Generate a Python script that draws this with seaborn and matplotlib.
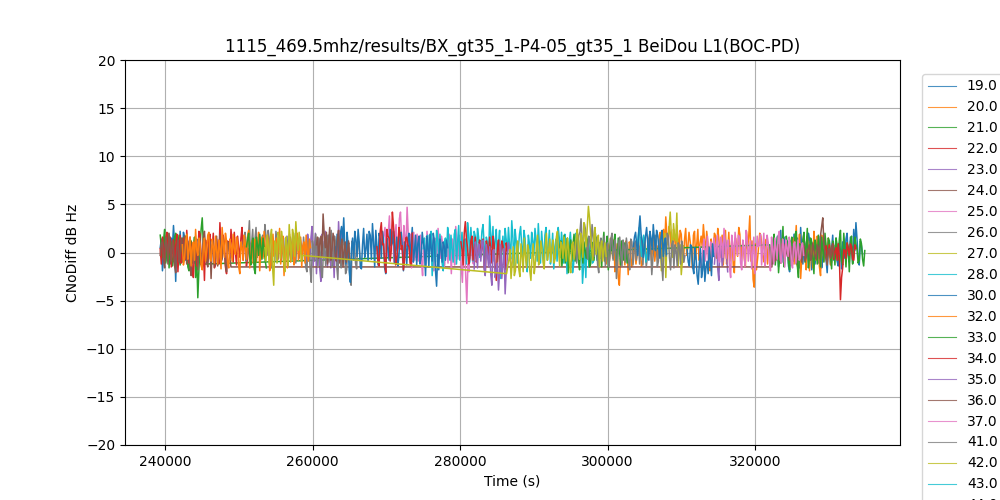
import pandas as pd
import matplotlib
matplotlib.use("Agg")
import matplotlib.pyplot as plt
import seaborn as sns

STEP = 300  # seconds between the "even" samples, the "odd" ones fall half way

# satellites, in legend order (colours cycle through tab10)
prns = ["19.0", "20.0", "21.0", "22.0", "23.0", "24.0", "25.0", "26.0", "27.0", "28.0",
        "30.0", "32.0", "33.0", "34.0", "35.0", "36.0", "37.0", "41.0", "42.0", "43.0", "44.0"]

# CNo differences (dB Hz)
prn19_a_t0 = 239300
prn19_a = [0.5, -1.9, 1.2, 2.0, -0.8, 1.5, 2.8, -3.0, 0.9, 2.2, -1.0, 1.6, 0.3]
prn19_a_odd = [1.4, -0.6, -0.9, 0.6, -1.2, 0.4, 0.8, 1.7, -1.1, 0.2, 2.1, -0.8]
prn19_b_t0 = 322000
prn19_b = [0.5, -0.9, 1.6, 0.2, -1.5, 2.3, 0.8, -0.4, 1.2, -2.0, 0.6, 1.9, -0.7, 0.3, 2.6,
           -1.2, 0.9, -0.3, 1.4, -1.8, 0.7, 0.1, -1.1, 1.7, -0.5, 0.8, -2.1, 1.0, 0.4, -0.8,
           1.5, -1.4, 0.2, 1.1, -0.6, 2.0, -1.0, 0.6, 2.4, 3.1, -0.5, 1.2, -0.2]
prn19_b_odd = [-1.3, 1.1, -0.8, 1.7, 0.4, -1.0, 1.6, 0.3, -1.4, 1.2, -0.9, 0.1, 1.5, -1.6,
               0.2, 1.3, -1.5, 2.0, 0.1, 0.9, -1.2, 1.4, 0.6, -1.6, 1.3, -0.7, 0.5, -1.2,
               1.8, 0.3, -0.9, 1.0, -1.7, 0.6, 1.4, -0.3, 1.6, -1.1, 0.2, 1.4, -1.3, 0.7]

prn20_a_t0 = 299500
prn20_a = [0.3, -1.2, 0.8, 1.5, -0.6, -2.0, 0.9, -3.4, -1.1, 0.4, 1.2, -2.3, 0.6, -0.8, 1.0,
           -0.3, 0.5, -1.4, 0.9, 0.2, -0.7, 1.3, 0.4, -0.9, 0.7, 1.6, -0.5, 2.4, 3.7, 0.8,
           2.1, -0.4, 1.5, 2.8, 0.3, 1.9, -1.0, 2.5, 0.6, 1.2, -1.6, 2.2, 0.9, -0.8, 1.7,
           2.9, -0.2, 1.1, -1.9, 0.5, 2.0, -0.6, 1.4, 0.7, -1.3, 2.3, 0.1, -0.9, 1.6, -2.1,
           0.8, 2.6, -0.7, 1.0, -1.5, 0.4, 3.8, 1.2, -3.6, -1.8, 0.6, 1.7, -0.4, 0.9, -1.2,
           0.3, 1.1]
prn20_a_odd = [-0.8, 0.6, -0.9, 0.7, 1.3, -0.8, -2.6, -0.6, 1.0, -1.3, 0.4, 1.1, -1.5, 0.8,
               -1.2, 1.3, 0.2, -1.1, 1.4, -0.5, 0.9, -0.8, 1.5, 0.2, -0.6, 2.1, 1.2, 0.6,
               1.8, 2.7, 0.4, 2.4, 0.1, 1.6, 2.3, -0.6, 1.4, -0.3, 2.1, 0.2, 1.8, -0.7,
               2.4, 1.0, 0.5, 1.3, 2.2, -1.2, 1.4, 0.3, 1.7, 2.5, -0.5, 1.8, 0.6, -1.2,
               2.1, 0.5, -1.3, 1.5, -0.4, 1.9, 0.7, -0.6, 2.2, 1.6, -0.9, -2.8, 0.9, -0.7,
               2.0, 0.5, -1.0, 1.4, 0.6, -0.8]
prn20_b_t0 = 325000
prn20_b = [0.4, -1.2, 2.8, 0.6, -2.7, 1.1, -0.5, 1.7, -1.9, 0.3, 2.2, -0.8, 0.9, -2.4, 0.5,
           1.3, -0.6, 0.2, -1.0, 0.7]
prn20_b_odd = [1.5, 0.7, -1.4, 1.9, -0.6, 2.0, -1.8, 0.4, 1.2, -1.6, 0.8, 1.7, -1.5, 1.8,
               -0.9, 0.4, 1.5, -1.3, 0.6]

prn21_a_t0 = 239300
prn21_a = [1.8, -0.5, 2.4, 0.3, -1.6, 1.1, -0.8, 2.0, 0.6, -1.3, 1.5, -0.2, 0.9, -1.9, 1.2,
           0.4, -2.6, -4.7, 0.8, 3.6, -1.2]
prn21_a_odd = [0.7, 1.3, -1.1, 2.0, 0.5, -1.4, 1.6, -0.9, 1.8, 0.2, -1.0, 1.7, -1.5, 0.6,
               -1.1, 1.6, -0.3, -1.8, 2.4, 0.9]
prn21_b_t0 = 322000
prn21_b = [0.8, -1.2, 1.9, 0.2, -2.1, 1.4, 2.7, -0.6, 0.9, -1.8, 1.6, -0.3, 2.2, -2.6, 0.5,
           1.3, -1.0, 2.5, -0.4, 1.1, -2.2, 0.7, 1.8, -1.5, 0.3, 2.0, -0.9, 1.2, -1.7, 0.6,
           1.5, -0.8, 2.3, -1.3, 0.4, 1.0, -2.0, 1.7, -0.5, 0.9, -1.1, 1.4, -0.7, 0.2]
prn21_b_odd = [-0.4, 1.2, -1.3, 1.6, -0.3, 0.4, -1.5, 1.7, -1.1, 0.8, -0.9, 1.9, -1.4, 0.9,
               -0.7, 2.1, 0.5, -1.6, 1.5, -0.6, 1.3, -1.2, 0.2, 1.6, -1.0, 0.7, 1.5, -0.4,
               1.2, -1.3, 0.8, 1.4, -0.9, 2.0, -1.5, 0.6, 1.1, -1.2, 1.6, 0.3, -0.8, 0.9,
               -1.4]

prn22_a_t0 = 239300
prn22_a = [0.4, 1.6, -0.9, 2.1, 0.2, -1.5, 1.3, 0.7, -2.0, 1.8, -0.4, 0.9, 2.3, -1.1, 0.5,
           -2.6, 1.2, 0.0, 1.9, -1.7, -2.9, 0.6, 1.4, -0.8, 2.0, -1.3, 0.3, 3.1, -0.6, 1.1,
           -2.2, 0.8, 2.4, -1.0, 0.1, 1.7, -0.5, 2.6, 0.9, -1.4, 0.4]
prn22_a_odd = [-1.2, 0.5, 1.4, -0.7, 1.6, 0.3, -1.0, 1.9, 0.2, -1.1, 1.5, -0.7, 0.8, 1.6,
               -1.8, 0.7, -1.4, 2.2, -0.6, 0.4, 1.3, -0.9, 1.9, 0.4, -1.6, 1.4, -1.2, 0.7,
               1.8, -1.5, 1.2, -0.6, 1.1, 2.1, -1.3, 0.4, 1.5, -0.8, 1.6, -0.5]
prn22_b_t0 = 329500
prn22_b = [0.3, -0.5, 0.8, 0.2, -0.7, 0.5, 0.9, -4.9, -1.6, 0.2, 1.0, -0.3, 0.6, -0.8, 0.4]
prn22_b_odd = [0.7, 0.1, -0.5, 0.9, 0.1, -0.8, -0.4, -2.6, 0.3, -0.6, 0.4, 0.9, -0.7, 0.8]

prn23_a_t0 = 259000
prn23_a = [0.6, 1.9, -0.8, 2.7, 0.3, -2.2, 1.4, -3.0, 0.9, 2.2, -1.5, 0.2, 1.6, -2.6, 0.7,
           3.2, -0.9, 1.1]
prn23_a_odd = [-1.1, 0.8, 1.5, -1.4, 2.0, 0.5, -1.7, 1.9, -0.6, 0.7, 1.8, -1.6, 0.4, 1.2,
               -1.3, 0.6, 2.0]
prn23_b_t0 = 314500
prn23_b = [-1.2, 0.9, -2.9, 0.4, -0.6, 1.3, -2.0]
prn23_b_odd = [0.3, -1.7, 0.8, -1.4, 1.1, -0.5]

prn24_a_t0 = 239300
prn24_a = [-0.3, 1.1, -1.6, 0.8, 2.0, -0.9, 0.4, -2.1, 1.3, -0.5, 0.9, 1.7, -1.2, 0.2, -2.4,
           1.0, 0.6, -1.8, 1.5, -0.4, 2.2, -1.0, 0.3, -2.7, 1.2, 0.5, -1.4, 1.8, -0.7, 0.1,
           -2.0, 0.7, -1.5]
prn24_a_odd = [1.0, -0.7, 1.6, -1.2, 0.6, 1.3, -1.4, 0.5, -1.0, 1.5, -0.6, 0.3, 1.2, -1.6,
               0.6, -1.1, 1.4, 0.2, -1.3, 1.6, 0.4, -1.5, 1.2, 0.6, -1.5, 1.7, 0.1, -1.0,
               1.4, -1.3, 1.1, -0.6]
prn24_b_t0 = 322300
prn24_b = [-1.5, 0.3, -0.7, 0.8, -1.1, 0.4, 0.9, -0.4, -0.8, 0.6, 0.1, -1.2, 0.7, -0.2, 0.5,
           -0.9, 0.3, 0.8, -0.5, 0.2, -0.7, 0.5, 1.8, 3.6, -0.1, -1.3, 0.4, 0.6, -0.5]
prn24_b_odd = [0.6, -0.9, 0.2, -0.3, 0.9, -0.5, 0.4, 0.7, -0.1, -0.9, 0.8, -0.4, 0.5, -1.0,
               0.7, -0.5, 0.4, -0.8, 1.0, -0.3, 0.8, -0.6, 2.7, 1.0, -0.7, 0.3, -0.6, 0.8]

prn25_t0 = 269500
prn25 = [0.9, 2.6, -0.4, 3.8, 1.2, -1.0, 2.9, 0.5, 4.2, -0.8, 1.6, 4.7, 0.3, -1.6, 2.1,
         0.7, -0.9, 1.8, -2.4, 0.6, 2.2, -0.3, 1.3, -1.9, 0.8, 2.5, -0.6, 1.1, -1.3, 0.4,
         1.9, -2.2, 0.2, 2.7, -0.7, 1.5, -3.1, 1.0, -5.3, -2.0, 0.5, -1.2, 0.8]
prn25_odd = [1.8, 0.5, 2.1, 0.3, 3.0, 1.6, 0.2, 3.5, 1.4, 2.8, 0.6, 2.0, 1.9, 0.4, -0.8,
             1.9, 0.9, -1.0, 1.4, -1.2, 0.6, 1.8, -0.9, 1.5, -0.4, 0.9, 1.7, -1.5, 1.2,
             -1.1, 0.5, 1.4, -1.3, 0.9, 1.8, -1.5, 0.7, -2.4, -1.2, 1.2, -0.8, 0.4]

prn26_t0 = 250500
prn26 = [0.7, 2.1, -0.5, 3.3, 1.0, -1.2, 2.6, 0.4, -0.9, 1.8, 2.9, -0.3, 1.4, -1.6, 0.8,
         2.2, -0.7, 1.1, 0.3, -1.4, 1.7, -0.2, 0.9, 2.0, -1.1, 0.5, 1.5, -0.8, 0.2, -2.0,
         1.3, -3.1, 0.6, 1.9, -1.5, 0.1, -2.6, 1.2, 0.4, -1.0, 2.3, -0.6, 0.9, -2.8, 1.6,
         -0.4, 0.7, -1.8, 1.0, -3.4, 0.3, -1.1, 1.4, -0.5]
prn26_odd = [1.6, -0.9, 1.4, -0.6, 2.4, 1.3, -0.5, 1.8, 1.1, -0.4, 1.7, 2.3, -0.8, 1.5,
             -0.9, 1.0, 2.0, -0.8, 1.5, 0.4, -0.9, 1.6, -0.7, 0.8, 1.9, -0.6, 0.7, 1.6,
             -1.5, 1.1, -1.8, 1.2, -0.9, 0.4, 1.5, -1.9, 0.3, -1.4, 1.8, 0.6, -1.5, 1.7,
             -1.4, 0.8, -1.6, 1.9, -2.2, 0.7, -1.9, 1.2, 0.9, -1.7, 0.8]

prn27_t0 = 307000
prn27 = [0.4, -1.9, 0.9, -2.6, 1.2, 4.2, -0.5, 1.6, 4.1, 0.3, -2.3, 0.7]
prn27_odd = [1.3, -0.6, 2.0, 0.8, 2.6, 1.9, 3.0, 1.2, -1.4, 0.8, -0.9]

prn28_t0 = 275000
prn28 = [0.4, -1.6, 1.8, 0.9, -2.4, 1.2, 2.3, -0.5, 0.8, -1.9, 1.5, 2.6, -0.8, 0.3, 1.9,
         -1.2, 2.8, 0.6, -0.4, 1.4, 3.1, -1.0, 0.9, 2.2, -0.7, 1.6, 0.2, 2.9, -1.3, 1.1,
         3.8, 0.5, -0.9, 2.4, 1.0, -2.7, 1.7, 2.5, -0.2, 0.8, 3.3, -1.4, 1.2, 0.4, 2.7,
         -0.6, 1.5, -2.0, 0.9, 2.1, -0.3, 1.3, 3.0, -1.1, 0.6, 1.8, -0.8, 2.3, 0.1, -1.7,
         1.4, 2.6, -0.5, 0.7, 1.9, -2.2, 1.0, 0.3, -1.2, 2.0, -0.4, 1.1, -3.2, 0.5, 1.6,
         -1.5, 0.8, -0.9, 1.2, 0.2, -0.6]
prn28_odd = [1.5, 0.7, -0.6, 2.2, -0.3, -1.0, 1.4, 1.9, -1.1, 0.9, -0.4, 1.5, 1.8, -1.0,
             2.4, 1.1, -0.8, 2.1, 1.3, -1.2, 1.9, 2.6, -0.9, 1.7, 2.5, -0.5, 2.2, 0.7,
             1.6, -0.8, 1.8, 2.7, 1.2, -1.0, 2.3, 0.4, -0.9, 1.3, 2.6, -0.7, 1.6, 2.4,
             -1.1, 1.9, 0.7, 2.3, -0.8, 1.8, -0.6, 1.2, 2.5, -0.9, 0.8, 2.2, -1.4, 2.6,
             0.5, -1.2, 2.0, 0.6, -0.9, 1.5, 2.1, -1.1, 0.8, -0.3, 2.1, -2.1, 1.6, 0.9,
             -1.3, 1.8, -1.4, -2.6, -0.4, 1.4, -1.1, 1.7, -0.8, 1.0]

prn30_t0 = 263000
prn30 = [0.6, 1.9, -0.8, 2.7, 3.6, -1.2, 0.9, -3.1, 1.5, 2.2, -0.4, 1.1, -1.7, 2.5, 0.3,
         -0.9, 1.8, 3.0, -1.5, 0.7, 2.0, -0.6, 1.3, -2.2, 0.5, 2.4, 1.0, -1.1, 1.6, -0.3,
         2.1, -1.9, 0.8, 1.4, -0.7, 2.6, 0.2, -1.3, 1.7, -0.5, 1.0, -2.4, 0.6, 1.9, -0.9,
         1.2, -3.5, -1.8, 0.4, 1.1, -0.8, 0.5]
prn30_odd = [-0.7, 0.9, 2.0, 1.2, 0.6, 2.1, -2.0, 0.4, -0.8, 1.3, 2.4, -1.5, 0.8, -0.5,
             1.9, 2.2, -0.7, 1.1, 2.3, -1.3, 1.4, 2.2, -1.6, 1.5, -0.8, 0.7, 2.2, 0.4,
             -1.4, 1.9, 0.6, 1.1, -1.3, 2.0, 1.1, -1.0, 1.8, 0.9, -1.2, 2.1, 0.3, 1.7,
             -1.5, 0.5, 2.0, -1.9, -0.2, 1.4, -1.0, 0.6, 1.3]

prn32_t0 = 242300
prn32 = [0.8, -0.6, 1.9, 0.2, -1.4, 1.1, 2.4, -0.3, 0.9, -1.8, 1.5, 0.1, 2.1, -0.9, 0.6,
         1.7, -1.2, 0.4, 2.6, -0.5, 1.2, -1.6, 0.7, 1.9, -0.2, 1.0, -2.2, 0.5, 1.8, -0.7,
         2.3, 0.0, -1.1, 1.4, 0.6, -1.9, 1.6, 2.2, -0.4, 0.8, -1.3, 1.9, 0.3, -0.8, 2.5,
         0.9, -2.4, 1.3, 0.2, -1.0, 1.7, -0.6, 2.0, 0.4, -1.5, 1.1, 1.8, -0.9, 0.5]
prn32_odd = [-1.3, 1.2, -0.7, 1.6, 0.5, -0.8, 0.3, 1.5, -1.4, 0.6, -0.9, 1.8, -0.6, 1.4,
             -1.1, 0.2, 1.3, -1.7, 0.9, 2.0, -1.2, 1.4, -0.9, 0.4, 1.6, -1.5, 1.1, -0.8,
             0.9, 1.7, -1.6, 1.2, 0.7, -1.0, 2.1, 0.3, -0.6, 0.5, 1.8, -1.9, 0.6, -0.4,
             1.5, 0.9, -1.2, 1.7, 0.4, -1.6, 1.9, 0.6, -1.3, 1.1, -0.8, 1.6, 0.7, -1.1,
             0.2, 1.4]

prn33_a_t0 = 251000
prn33_a = [0.6, 2.0, -1.3, 1.5, -2.2, 0.8, 1.9, -0.7, 0.4, -1.6]
prn33_a_odd = [1.4, -0.5, 0.9, -1.7, 1.6, -0.3, 0.6, 1.5, -0.9]
prn33_b_t0 = 293500
prn33_b = [0.5, -1.4, 1.8, 0.2, -2.1, 1.3, 0.8, -0.9, 1.6, -1.8, 0.4, 1.1, -0.6, 0.9, -1.2,
           0.3, 0.7, -0.5, 1.0, -1.5, 2.1, 0.6, -1.8, 1.4, -0.3, 1.9, -1.1, 0.5, 1.2, -0.8,
           0.4, -0.2]
prn33_b_odd = [1.2, -0.3, -1.1, 1.5, 0.4, -0.9, 1.9, 0.5, -0.8, 1.3, -1.1, 0.2, 1.4, -1.5,
               1.1, -0.8, 1.6, -1.3, 0.9, 0.8, -0.9, 1.7, -0.4, 0.6, 1.1, -0.7, 1.5, -1.3,
               0.3, 1.0, -1.1]

prn34_a_t0 = 268700
prn34_a = [0.6, -1.4, 3.1, 0.9, -2.1, 1.7, -0.9, 4.2, 1.2, -0.5, 2.6, 0.3, -1.8, 1.5, 0.8,
           -1.1, 2.0]
prn34_a_odd = [-1.0, 2.2, 0.8, -0.9, 2.4, 1.5, 0.2, 2.8, -1.3, 0.6, 1.9, 0.7, -0.8, 1.6,
               0.6, -1.4]
prn34_b_t0 = 280100
prn34_b = [1.1, -1.3, 3.2, 0.5, -0.6, 1.7, 0.2, -1.0, 0.8, -0.4, 1.4, -2.2, 0.6, 1.6, -1.1,
           0.9, -2.9, 1.3, -0.5, 0.7, -1.8, 0.2]
prn34_b_odd = [0.3, 2.0, 1.4, -1.2, 1.2, -0.8, 1.6, -0.3, 1.3, 0.5, -1.5, 1.2, -0.6, 0.3,
               1.7, -1.6, 0.4, -1.4, 1.2, -0.5, 1.0]

prn35_t0 = 281900
prn35 = [-1.7, 0.4, 0.9, -0.9, 1.3, -2.4, -0.2, 0.6, -3.4, 0.3, -1.9, -3.9, 0.8, -1.2, -4.3,
         -0.6, 0.4, -1.5]
prn35_odd = [1.1, -1.6, 0.3, 1.1, -1.7, 0.8, -1.5, -2.3, 0.2, -2.6, -1.1, -2.0, -2.7, 0.4,
             -1.9, 1.0, -0.9]

prn36_t0 = 260500
prn36 = [0.8, -0.6, 1.7, 4.0, 0.5, -1.2, 2.6, 0.2, 1.3, -0.9, 2.3, 0.6, -1.5, 1.1, 0.0, -0.7]
prn36_odd = [1.6, 0.9, -0.4, 1.9, 2.1, 1.0, -0.8, 2.0, -0.5, 1.5, -1.1, 1.4, 0.3, -1.0, 1.2]

prn37_t0 = 312500
prn37 = [0.6, -0.8, 1.4, 0.2, -1.5, 1.1, 0.5, -0.4, 1.8, -1.0, 0.9, 2.5, -0.6, 1.3, -2.6,
         0.7, 2.1, -0.3, 1.6, -1.8, 0.4, 2.3, -0.9, 1.2, 0.1, -2.2, 1.7, 0.8, -1.3, 2.0,
         -0.5, 1.0, -1.9, 0.3, 1.5, -0.7, 2.2, -1.1, 0.6, 1.3, -0.4, 0.9, -1.6, 1.1, 0.2,
         -0.8, 0.7, -0.3]
prn37_odd = [-1.4, 0.7, -0.9, 1.7, 0.3, -1.1, 1.5, 0.6, -0.7, 1.6, -0.5, 1.2, 0.9, -1.6,
             1.8, -0.8, 0.9, 1.8, -1.1, 1.3, -1.5, 1.5, 0.4, -1.7, 1.6, -0.4, 0.6, 1.9,
             0.3, -1.4, 1.8, -0.9, 1.6, -1.2, 0.4, 1.7, -0.8, 1.4, -1.5, 0.5, 1.6, -1.2,
             0.9, -1.1, 1.3, -0.6, 1.0]

prn41_t0 = 295500
prn41 = [0.3, -1.1, 1.8, 3.5, 0.6, 2.4, -0.7, 1.2, 2.9, -0.4, 0.8, -2.1, 1.5, 0.2, -1.4,
         1.0, -0.6, 2.0, 0.4, -2.7, 0.9, -0.2, 1.3, -1.0, 0.5, -1.8, 1.1, 0.0, -0.8, 0.7,
         1.6, -1.3, 0.4, -0.5, 1.9, -2.3, 0.6, 1.2, -0.9, 0.3, -2.9, 1.4, 2.0, -0.6, 0.8,
         -1.6, 0.2, 1.0, -1.2, 0.5, -0.3]
prn41_odd = [1.2, 0.6, 2.1, 1.1, 3.0, 0.8, 1.7, 0.5, 1.6, 2.0, -1.3, 0.9, -0.9, 1.7, 0.4,
             -1.5, 1.4, -0.8, 1.3, -1.1, 1.6, -1.4, 0.7, 1.5, -0.9, 1.4, -1.3, 1.2, 0.2,
             -1.2, 0.8, 1.6, -1.5, 1.3, 0.4, -0.6, 1.8, -1.5, 1.4, -1.2, 0.6, -0.4, 1.7,
             -1.8, 1.2, 0.8, -1.4, 0.6, 1.2, -1.0]

prn42_a_t0 = 253500
prn42_a = [0.5, 1.8, -1.2, 2.4, -3.4, 0.9, 2.1, -0.6, 1.3, -2.0, 0.7, 2.9, -0.9, 1.6, 3.2,
           0.2, 1.0, -0.3]
prn42_a_odd = [-0.9, 0.7, 1.5, -1.6, 1.2, -1.1, 1.4, 2.2, -0.8, 1.6, -1.4, 1.0, 2.4, -0.4,
               1.3, 2.1, -0.9]
prn42_b_t0 = 286300
prn42_b = [-2.2, -0.8, -2.7, 0.6, -1.9, 1.2, -2.5, -0.4, 1.5, -1.6, 0.3, -2.9, 0.9, -1.1, 1.8,
           -0.5, 0.4, -1.7, 2.0, 0.1, -1.0, 1.3, -0.6, 2.2, -1.4, 0.8, 1.6, -0.9, 0.5, -2.1,
           1.1, 0.2, 2.4, -0.7, 1.4, 3.1, 0.6, 4.8, 1.9, -0.8, 2.6, 0.9, -1.5, 1.2, 0.3, -0.4]
prn42_b_odd = [-1.4, 0.3, -1.2, -2.4, 0.5, -1.7, 0.9, -2.0, -0.3, 0.8, -1.9, -0.4, -2.2, 0.6,
               -1.3, 1.2, -1.0, 0.7, -0.8, 1.4, 0.5, -1.1, 1.6, 0.2, 1.1, -0.6, 0.3, 1.5,
               -1.2, 0.8, -0.7, 1.7, 0.3, 2.0, -0.5, 1.8, 2.7, 3.6, 0.4, 1.7, -0.2, 1.8,
               0.5, -0.9, 1.0]

prn43_t0 = 304000
prn43 = [0.5, 2.6, -0.4, 1.8, -1.0, 0.7]
prn43_odd = [1.7, 1.0, 0.9, 0.6, -0.3]

prn44_a_t0 = 303500
prn44_a = [0.6, 2.1, -0.3, 3.8, 1.2, 0.4, 2.6, -0.8, 1.5, 2.9, 0.2, 1.8, -0.6, 2.3, 0.9, -0.2]
prn44_a_odd = [1.6, 0.8, 2.4, 1.9, -0.5, 1.7, 0.9, 2.2, 0.3, 1.4, 2.3, 0.5, 1.6, -0.4, 1.5]
prn44_b_t0 = 310800
prn44_b = [0.3, -1.4, 0.6, -2.2, -0.5, -3.3, 0.4, -1.8, -3.0, -0.9, 0.5, -2.4, -0.4]
prn44_b_odd = [-1.0, 0.8, -1.5, 0.5, -2.4, -1.1, -2.6, 0.2, -1.6, -2.2, -0.7, 0.9]

# (satellite, pass id, start, even samples, odd samples)
# samples with the same satellite and pass id are joined into one line
segments = [
    ("19.0", "a", prn19_a_t0, prn19_a, prn19_a_odd), ("19.0", "b", prn19_b_t0, prn19_b, prn19_b_odd),
    ("20.0", "a", prn20_a_t0, prn20_a, prn20_a_odd), ("20.0", "b", prn20_b_t0, prn20_b, prn20_b_odd),
    ("21.0", "a", prn21_a_t0, prn21_a, prn21_a_odd), ("21.0", "a", prn21_b_t0, prn21_b, prn21_b_odd),
    ("22.0", "a", prn22_a_t0, prn22_a, prn22_a_odd), ("22.0", "b", prn22_b_t0, prn22_b, prn22_b_odd),
    ("23.0", "a", prn23_a_t0, prn23_a, prn23_a_odd), ("23.0", "b", prn23_b_t0, prn23_b, prn23_b_odd),
    ("24.0", "a", prn24_a_t0, prn24_a, prn24_a_odd), ("24.0", "a", prn24_b_t0, prn24_b, prn24_b_odd),
    ("25.0", "a", prn25_t0, prn25, prn25_odd),
    ("26.0", "a", prn26_t0, prn26, prn26_odd),
    ("27.0", "a", prn27_t0, prn27, prn27_odd),
    ("28.0", "a", prn28_t0, prn28, prn28_odd),
    ("30.0", "a", prn30_t0, prn30, prn30_odd),
    ("32.0", "a", prn32_t0, prn32, prn32_odd),
    ("33.0", "a", prn33_a_t0, prn33_a, prn33_a_odd), ("33.0", "b", prn33_b_t0, prn33_b, prn33_b_odd),
    ("34.0", "a", prn34_a_t0, prn34_a, prn34_a_odd), ("34.0", "b", prn34_b_t0, prn34_b, prn34_b_odd),
    ("35.0", "a", prn35_t0, prn35, prn35_odd),
    ("36.0", "a", prn36_t0, prn36, prn36_odd),
    ("37.0", "a", prn37_t0, prn37, prn37_odd),
    ("41.0", "a", prn41_t0, prn41, prn41_odd),
    ("42.0", "a", prn42_a_t0, prn42_a, prn42_a_odd), ("42.0", "a", prn42_b_t0, prn42_b, prn42_b_odd),
    ("43.0", "a", prn43_t0, prn43, prn43_odd),
    ("44.0", "a", prn44_a_t0, prn44_a, prn44_a_odd), ("44.0", "b", prn44_b_t0, prn44_b, prn44_b_odd),
]

rows = []
for prn, pas, t0, even, odd in segments:
    for i, v in enumerate(even):
        rows.append((t0 + i * STEP, v, prn, pas))
    for i, v in enumerate(odd):
        rows.append((t0 + i * STEP + STEP // 2, v, prn, pas))
df = pd.DataFrame(rows, columns=["time", "cno_diff", "prn", "pass"])
df = df.sort_values(["prn", "pass", "time"])

palette = dict(zip(prns, sns.color_palette("tab10", 10) * 3))

fig, ax = plt.subplots(figsize=(10, 5), dpi=100)
sns.lineplot(data=df, x="time", y="cno_diff", hue="prn", hue_order=prns,
             units="pass", estimator=None, palette=palette, linewidth=1.1, ax=ax)
ax.set_ylim(-20, 20)
ax.grid(True)
ax.set_title("1115_469.5mhz/results/BX_gt35_1-P4-05_gt35_1 BeiDou L1(BOC-PD)")
ax.set_xlabel("Time (s)")
ax.set_ylabel("CNoDiff dB Hz")
sns.move_legend(ax, "upper left", bbox_to_anchor=(1.02, 0.982), title=None)
for line in ax.get_legend().get_lines():
    line.set_linewidth(0.8)
    line.set_alpha(0.8)

fig.savefig("out.png")
